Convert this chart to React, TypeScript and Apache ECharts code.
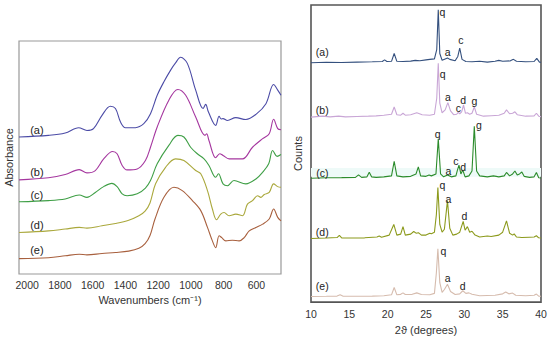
import React, { useEffect, useRef } from "react";
import * as echarts from "echarts";

const FONT = "'Liberation Sans', Arial, sans-serif";

// ---------- FTIR (left panel): [wavenumber cm-1, absorbance a.u.] ----------
const ftirTicks = [2000, 1800, 1600, 1400, 1200, 1000, 800, 600];
const ftirA = [[2050,58.8],[1870,59.5],[1768,60.5],[1686,62.8],[1635,61.6],[1595,62.4],[1543,68.1],[1492,72.0],[1461,71.0],[1430,65.2],[1400,62.8],[1339,62.8],[1288,64.5],[1247,68.8],[1206,76.7],[1165,82.5],[1124,87.5],[1095,90.5],[1063,93.0],[1022,90.4],[971,78.9],[926,71.0],[910,72.8],[893,69.5],[849,63.8],[828,67.7],[815,66.5],[804,66.7],[777,65.9],[726,67.1],[665,66.3],[603,68.5],[542,73.1],[495,81.3],[470,78.9],[450,76.7]];
const ftirB = [[2050,40.4],[1870,41.3],[1768,42.7],[1682,44.8],[1635,43.4],[1584,44.4],[1533,49.4],[1478,52.6],[1451,51.6],[1420,46.6],[1390,44.7],[1328,45.1],[1278,48.7],[1247,54.4],[1206,63.1],[1135,74.6],[1080,79.2],[1032,76.7],[971,67.4],[914,59.5],[904,60.2],[890,57.3],[849,49.9],[824,51.6],[804,50.9],[767,49.4],[685,49.4],[624,54.4],[562,58.1],[522,60.2],[495,66.4],[470,62.4],[450,61.9]];
const ftirC = [[2050,31.0],[1870,31.5],[1768,32.2],[1682,33.9],[1635,32.9],[1584,35.0],[1533,37.5],[1483,38.9],[1451,37.5],[1420,34.4],[1390,33.6],[1328,34.4],[1278,36.9],[1247,40.1],[1206,47.3],[1135,55.2],[1080,59.5],[1043,58.8],[1002,54.4],[961,51.6],[920,49.4],[890,46.6],[849,41.5],[832,43.0],[804,38.7],[777,37.9],[737,40.1],[665,38.7],[603,40.8],[562,43.7],[525,47.3],[501,53.0],[474,50.5],[450,51.3]];
const ftirD = [[2050,17.8],[1870,18.5],[1768,19.3],[1682,20.0],[1635,19.7],[1543,20.7],[1461,21.7],[1380,23.1],[1318,25.0],[1280,27.0],[1250,30.5],[1216,38.7],[1155,45.8],[1094,49.4],[1043,48.7],[971,44.4],[940,43.0],[899,35.8],[869,27.9],[844,23.3],[818,25.7],[798,26.4],[767,25.0],[726,25.7],[685,25.0],[655,30.0],[624,31.5],[593,33.6],[573,32.9],[552,34.1],[522,35.0],[495,38.7],[470,37.5],[450,37.2]];
const ftirE = [[2050,6.6],[1870,7.0],[1768,7.8],[1682,8.5],[1635,8.2],[1543,8.8],[1461,9.2],[1380,9.8],[1318,11.0],[1280,13.0],[1250,16.5],[1220,23.5],[1165,32.9],[1104,37.2],[1053,35.8],[991,31.5],[940,27.2],[899,20.0],[869,14.2],[849,11.3],[828,16.4],[812,15.6],[787,14.2],[747,14.5],[706,14.2],[675,15.6],[644,18.5],[603,20.0],[562,21.4],[522,23.6],[495,27.9],[470,24.3],[450,22.8]];
const ftirNames = ["(a)", "(b)", "(c)", "(d)", "(e)"];
const ftirLabelPos = [[1941,61.9],[1941,43.7],[1941,34.1],[1941,21.1],[1941,10.2]];

// ---------- XRD (right panel): [2theta deg, counts a.u.] ----------
const xrdA = [[10,2465],[12,2470],[14,2468],[16,2472],[18,2475],[19.3,2478],[19.6,2495],[19.9,2478],[20.5,2480],[20.85,2560],[21.2,2480],[22,2478],[23,2482],[23.6,2490],[24.2,2485],[25,2495],[25.5,2500],[26.1,2505],[26.4,2600],[26.6,3010],[26.8,2560],[27.1,2490],[27.5,2505],[27.8,2515],[28.1,2500],[28.8,2485],[29.15,2530],[29.4,2617],[29.7,2500],[30.2,2478],[31,2475],[32,2480],[33,2472],[34,2480],[34.5,2490],[35,2480],[36,2485],[36.4,2500],[36.8,2480],[38,2475],[39.1,2478],[39.45,2510],[39.8,2472],[40,2470]];
const xrdB = [[10,1905],[11.5,1915],[12.5,1908],[13.6,1915],[14.5,1908],[16,1912],[17.5,1915],[18.5,1918],[19.5,1925],[20.5,1935],[20.85,2010],[21.2,1930],[21.7,1925],[22.0,1945],[22.3,1925],[23,1930],[23.8,1950],[24.5,1930],[25.5,1925],[26.1,1935],[26.4,2100],[26.6,2460],[26.8,2050],[27.1,1950],[27.5,1980],[27.85,2055],[28.2,1970],[28.6,1930],[29.0,1935],[29.2,1955],[29.4,1940],[29.65,1960],[29.9,2030],[30.15,1945],[30.4,1950],[30.7,1935],[31.0,1945],[31.3,2010],[31.6,1935],[32.5,1915],[33.5,1920],[34.5,1925],[35.2,1945],[35.5,1980],[35.9,1940],[36.3,1945],[36.6,1960],[36.9,1930],[38,1915],[39.1,1918],[39.4,1945],[39.7,1915],[40,1910]];
const xrdC = [[10,1275],[12,1280],[14,1282],[15.8,1285],[16.2,1310],[16.6,1285],[17.3,1290],[17.6,1337],[17.9,1290],[18.5,1285],[19.5,1290],[20.5,1300],[20.85,1450],[21.2,1300],[22,1290],[23,1295],[23.7,1320],[24.0,1393],[24.3,1300],[25,1295],[25.4,1310],[25.7,1300],[26.3,1320],[26.6,1683],[26.9,1320],[27.3,1290],[27.8,1310],[28.3,1290],[28.9,1300],[29.1,1360],[29.3,1410],[29.55,1320],[29.8,1360],[30.1,1290],[30.6,1300],[31.0,1350],[31.3,1810],[31.6,1350],[32,1300],[33,1290],[33.8,1300],[34.5,1290],[35.2,1300],[35.5,1335],[35.9,1300],[36.3,1320],[36.6,1350],[36.9,1310],[37.2,1320],[37.5,1340],[37.8,1295],[38.5,1285],[39.1,1290],[39.4,1335],[39.7,1280],[40,1278]];
const xrdD = [[10,655],[12,660],[13.4,665],[13.7,687],[14,662],[15.5,660],[17,662],[18.6,670],[18.9,680],[19.2,668],[20.2,690],[20.8,800],[21.2,690],[21.7,700],[22.0,777],[22.3,690],[23.0,700],[23.4,727],[23.7,710],[24.0,715],[24.4,690],[25.0,690],[25.5,710],[25.7,705],[26.1,720],[26.35,900],[26.55,1180],[26.8,800],[27.1,720],[27.4,750],[27.8,1045],[28.1,760],[28.5,690],[29.0,700],[29.4,720],[29.85,832],[30.1,740],[30.4,777],[30.7,720],[31.0,730],[31.4,690],[32.0,670],[33.0,680],[33.5,675],[34.5,690],[35.0,720],[35.5,837],[35.9,710],[36.3,690],[36.5,703],[36.8,670],[37.5,665],[38.5,668],[39.1,670],[39.4,683],[39.7,662],[40,660]];
const xrdE = [[10,58],[12,60],[13.4,62],[13.8,75],[14.2,60],[16,60],[18,62],[19.5,65],[20.5,75],[20.85,150],[21.2,75],[21.7,80],[22.0,95],[22.3,78],[23.2,80],[23.8,95],[24.4,78],[25.5,75],[26.1,90],[26.35,300],[26.55,550],[26.8,200],[27.1,100],[27.4,130],[27.8,183],[28.2,110],[28.8,78],[29.4,85],[29.8,117],[30.2,90],[30.6,95],[31.0,80],[32,65],[33,68],[34,70],[35,85],[35.4,103],[35.8,85],[36.3,93],[36.7,70],[38,65],[39.1,70],[39.4,83],[39.7,62],[40,60]];
const xrdNames = ["(a)", "(b)", "(c)", "(d)", "(e)"];
const xrdNamePos = [[11.47,2577],[11.47,1983],[11.47,1327],[11.47,717],[11.47,167]];
// peak phase letters per pattern: [letter, 2theta, counts]
const peaksA = [["q",27.13,2993],["a",27.83,2577],["c",29.56,2700]];
const peaksB = [["q",27.18,2350],["a",27.87,2117],["c",29.21,2000],["d",29.86,2077],["g",31.3,2067]];
const peaksC = [["q",26.53,1733],["a",27.91,1353],["c",28.91,1457],["d",29.86,1393],["g",31.91,1820]];
const peaksD = [["q",27.15,1203],["a",27.91,1067],["d",30.0,890]];
const peaksE = [["q",27.26,527],["a",27.83,250],["d",29.79,170]];

const ftirColors = ["#4b4ba6", "#a5379f", "#3f9f46", "#aaa83c", "#a8603e"];
const xrdColors = ["#34507e", "#c9a6d6", "#2c8c2c", "#8c9a1c", "#d6bcae"];

function labelMark(items: { text: string; coord: number[] }[], fontSize: number) {
  return {
    silent: true,
    symbol: "circle",
    symbolSize: 1,
    itemStyle: { color: "rgba(0,0,0,0)" },
    label: {
      show: true,
      position: "inside",
      formatter: (p: any) => p.name,
      color: "#222",
      fontSize,
      fontFamily: FONT,
    },
    data: items.map((it) => ({ name: it.text, coord: it.coord })),
  };
}

export default function App() {
  const ref = useRef<HTMLDivElement>(null);
  useEffect(() => {
    document.body.style.margin = "0";
    if (!ref.current) return;
    const chart = echarts.init(ref.current, undefined, { renderer: "svg" });
    const ftirData = [ftirA, ftirB, ftirC, ftirD, ftirE];
    const xrdData = [xrdA, xrdB, xrdC, xrdD, xrdE];
    const xrdPeaks = [peaksA, peaksB, peaksC, peaksD, peaksE];

    const series: any[] = [];
    ftirData.forEach((d, i) => {
      series.push({
        type: "line",
        xAxisIndex: 0,
        yAxisIndex: 0,
        data: d,
        showSymbol: false,
        symbol: "none",
        smooth: 0.35,
        lineStyle: { width: 1.1, color: ftirColors[i] },
        markPoint: labelMark([{ text: ftirNames[i], coord: ftirLabelPos[i] }], 11),
      });
    });
    xrdData.forEach((d, i) => {
      const items = [{ text: xrdNames[i], coord: xrdNamePos[i] }].concat(
        xrdPeaks[i].map((p: any) => ({ text: p[0], coord: [p[1], p[2]] }))
      );
      const s: any = {
        type: "line",
        xAxisIndex: 1,
        yAxisIndex: 1,
        data: d,
        showSymbol: false,
        symbol: "none",
        lineStyle: { width: 1.1, color: xrdColors[i] },
        markPoint: labelMark(items, 10.5),
      };
      if (i === 2) {
        s.markArea = {
          silent: true,
          itemStyle: { color: "#eefaf8" },
          data: [[{ yAxis: 1290 }, { yAxis: 1380 }]],
        };
      }
      series.push(s);
    });

    chart.setOption({
      animation: false,
      textStyle: { fontFamily: FONT },
      grid: [
        { left: 19, top: 41, width: 262, height: 233, show: true, borderColor: "#999", borderWidth: 1.2, backgroundColor: "transparent" },
        { left: 311, top: 5, width: 230, height: 306, show: true, borderColor: "#555", borderWidth: 1.6, backgroundColor: "transparent" },
      ],
      xAxis: [
        {
          gridIndex: 0, type: "value", min: 450, max: 2050, inverse: true,
          axisLine: { show: false }, axisTick: { show: false }, splitLine: { show: false },
          axisLabel: { customValues: ftirTicks, formatter: (v: number) => String(v), fontSize: 10.5, color: "#333", margin: 5, fontFamily: FONT },
          name: "Wavenumbers (cm⁻¹)", nameLocation: "middle", nameGap: 17,
          nameTextStyle: { fontSize: 11, color: "#333", fontFamily: FONT },
        },
        {
          gridIndex: 1, type: "value", min: 10, max: 40, interval: 5,
          axisLine: { show: false }, axisTick: { show: false }, splitLine: { show: false },
          axisLabel: { fontSize: 10.5, color: "#333", margin: 6, fontFamily: FONT },
          name: "2ϑ (degrees)", nameLocation: "middle", nameGap: 16,
          nameTextStyle: { fontSize: 11, color: "#333", fontFamily: FONT },
        },
      ],
      yAxis: [
        {
          gridIndex: 0, type: "value", min: 0, max: 100,
          axisLine: { show: false }, axisTick: { show: false }, splitLine: { show: false }, axisLabel: { show: false },
          name: "Absorbance", nameLocation: "middle", nameGap: 5, nameRotate: 90,
          nameTextStyle: { fontSize: 11, color: "#333", fontFamily: FONT },
        },
        {
          gridIndex: 1, type: "value", min: 0, max: 3060,
          axisLine: { show: false }, axisTick: { show: false }, splitLine: { show: false }, axisLabel: { show: false },
          name: "Counts", nameLocation: "middle", nameGap: 8, nameRotate: 90,
          nameTextStyle: { fontSize: 11, color: "#333", fontFamily: FONT },
        },
      ],
      series,
    });
    return () => chart.dispose();
  }, []);
  return <div ref={ref} style={{ width: 550, height: 340 }} />;
}
